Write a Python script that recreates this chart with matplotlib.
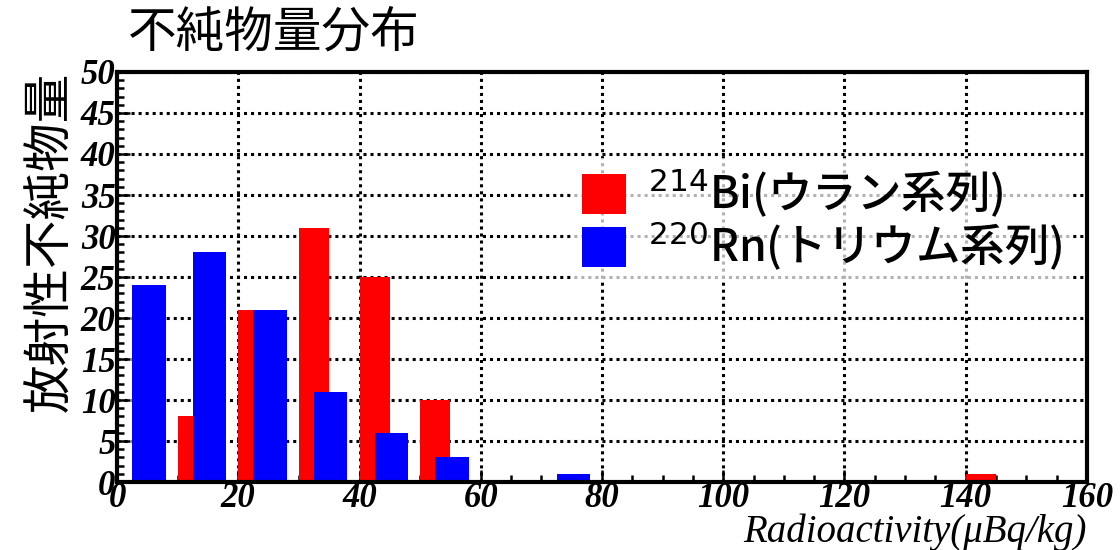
import matplotlib.pyplot as plt
import numpy as np
from matplotlib.ticker import MultipleLocator

plt.rcParams['font.family'] = ['Noto Sans CJK JP', 'DejaVu Sans']

# histogram bins (left edges, width 10 uBq/kg)
bin_edges = [0, 10, 20, 30, 40, 50, 60, 70, 80, 90, 100, 110, 120, 130, 140, 150]
bi214 = [0, 8, 21, 31, 25, 10, 0, 0, 0, 0, 0, 0, 0, 0, 1, 0]
rn220 = [24, 28, 21, 11, 6, 3, 0, 1, 0, 0, 0, 0, 0, 0, 0, 0]

label_bi = r'$^{214}$Bi(ウラン系列)'
label_rn = r'$^{220}$Rn(トリウム系列)'

x = np.array(bin_edges)

fig = plt.figure(figsize=(11.2, 5.5), dpi=100)
ax = fig.add_axes([0.1045, 0.1236, 0.866, 0.7455])

bars_bi = ax.bar(x + 0.0, bi214, width=5.0, align='edge', color='#ff0000',
                 label=label_bi, zorder=2)
bars_rn = ax.bar(x + 2.5, rn220, width=5.5, align='edge', color='#0000ff',
                 label=label_rn, zorder=3)

ax.set_xlim(0, 160)
ax.set_ylim(0, 50)
ax.xaxis.set_major_locator(MultipleLocator(20))
ax.xaxis.set_minor_locator(MultipleLocator(5))
ax.yaxis.set_major_locator(MultipleLocator(5))
ax.yaxis.set_minor_locator(MultipleLocator(1))

ax.grid(True, which='major', color='black', linestyle=(0, (1, 1.3)), linewidth=2.2)
ax.set_axisbelow(True)

ax.tick_params(which='both', direction='in', width=1.8, top=False, right=False)
ax.tick_params(which='major', length=9)
ax.tick_params(which='minor', length=5)
ax.tick_params(axis='y', pad=1)
ax.tick_params(axis='x', pad=0)

for sp in ax.spines.values():
    sp.set_linewidth(3)
    sp.set_zorder(5)

for lab in ax.get_xticklabels() + ax.get_yticklabels():
    lab.set_family('Liberation Serif')
    lab.set_style('italic')
    lab.set_weight('bold')
    lab.set_fontsize(25)

# axis title sits under the tick labels, flush with the right edge of the frame
fig.text(0.9705, 0.014, 'Radioactivity(μBq/kg)', family='Liberation Serif',
         style='italic', fontsize=28, ha='right', va='baseline')
ax.set_ylabel('放射性不純物量', fontsize=35, loc='top', labelpad=4)

fig.text(0.114, 0.895, '不純物量分布', fontsize=35, ha='left', va='bottom')

leg = ax.legend(handles=[bars_bi, bars_rn], loc='upper left',
                bbox_to_anchor=(0.447, 0.845), fontsize=32,
                handlelength=1.0, handleheight=1.0, handletextpad=0.5,
                labelspacing=0.0, borderpad=0.2, frameon=True,
                fancybox=False, edgecolor='none', facecolor='white',
                framealpha=0.7)
leg.set_zorder(4)
for t in leg.get_texts():
    t.set_weight('medium')

fig.savefig('out.png', dpi=100)
